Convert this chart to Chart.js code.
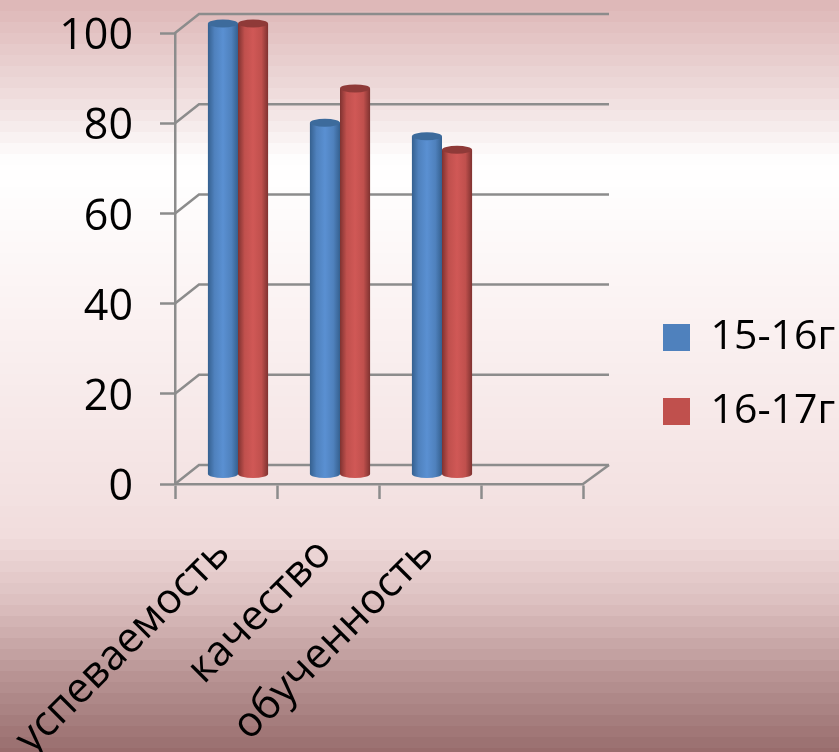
<!DOCTYPE html>
<html>
<head>
<meta charset="utf-8">
<style>
    html, body { margin: 0; padding: 0; background: #fff; overflow: hidden; }
    canvas { display: block; }
</style>
<script src="https://cdn.jsdelivr.net/npm/chart.js@4"></script>
</head>
<body>
<canvas id="gradesChart" width="839" height="752"></canvas>
<script>
const categories = ["успеваемость", "качество", "обученность", ""];
const series1 = [100, 78, 75, null];
const series2 = [100, 85.6, 72, null];
const seriesNames = ["15-16г", "16-17г"];

const fontName = "'Open Sans', sans-serif";
const gridColor = "#8c8c8c";
const categoryPercent = 0.59;
const depthX = 24, depthY = 19;

// edge, main, centre, top cap
const blues = ["#35608f", "#4f81bd", "#5a90d2", "#3d6b9c"];
const reds = ["#7f3230", "#c0504d", "#d05856", "#8f3a38"];

// background stops: y position, colour
const bgStops = [
    [0, [222, 184, 184]], [60, [233, 208, 208]], [110, [243, 230, 230]], [150, [254, 252, 252]],
    [170, [255, 255, 255]], [300, [251, 243, 243]], [420, [246, 232, 232]], [530, [241, 221, 221]],
    [600, [219, 190, 190]], [670, [184, 148, 148]], [752, [150, 106, 106]]
];

function bgColorAt(y) {
    for (let i = 1; i < bgStops.length; i++) {
        if (y <= bgStops[i][0]) {
            const a = bgStops[i - 1], b = bgStops[i];
            const t = (y - a[0]) / (b[0] - a[0]);
            const c = a[1].map((v, k) => Math.round(v + (b[1][k] - v) * t));
            return `rgb(${c[0]},${c[1]},${c[2]})`;
        }
    }
    return "rgb(150,106,106)";
}

function cylinderFill(c, colors) {
    if (c.dataIndex === undefined) return colors[1];
    const xs = c.chart.scales.x;
    const w = (xs.getPixelForValue(1) - xs.getPixelForValue(0)) * categoryPercent / 2;
    const cx = xs.getPixelForValue(c.dataIndex) + (c.datasetIndex - 0.5) * w;
    // scale has no size yet on the first pass
    if (!Number.isFinite(w) || !Number.isFinite(cx)) return colors[1];
    const g = c.chart.ctx.createLinearGradient(cx - w / 2, 0, cx + w / 2, 0);
    g.addColorStop(0, colors[0]);
    g.addColorStop(0.22, colors[1]);
    g.addColorStop(0.5, colors[2]);
    g.addColorStop(0.78, colors[1]);
    g.addColorStop(1, colors[0]);
    return g;
}

const scenePlugin = {
    id: "scene",
    beforeInit(chart) {
        // keep the legend box wide so the plot ends where the floor ends
        const legend = chart.legend;
        const fit = legend.fit, draw = legend.draw;
        legend.fit = function () {
            fit.call(this);
            this.width = 256;
        };
        legend.draw = function () {
            chart.ctx.save();
            chart.ctx.translate(47, -18);
            draw.call(this);
            chart.ctx.restore();
        };
    },
    beforeDraw(chart) {
        const ctx = chart.ctx;
        for (let y = 0; y < chart.height; y += 11) {
            ctx.fillStyle = bgColorAt(y);
            ctx.fillRect(0, y, chart.width, 11);
        }
    },
    beforeDatasetsDraw(chart) {
        const ctx = chart.ctx;
        const xs = chart.scales.x, ys = chart.scales.y;
        ctx.save();
        ctx.strokeStyle = gridColor;
        ctx.lineWidth = 2.5;
        ys.ticks.forEach(t => {
            const y = ys.getPixelForValue(t.value);
            ctx.beginPath();
            ctx.moveTo(xs.left, y);
            ctx.lineTo(xs.left + depthX, y - depthY);
            ctx.lineTo(xs.right + depthX + 2, y - depthY);
            ctx.stroke();
        });
        const y0 = ys.getPixelForValue(0);
        ctx.beginPath();
        ctx.moveTo(xs.right, y0);
        ctx.lineTo(xs.right + depthX + 2, y0 - depthY);
        ctx.stroke();
        ctx.restore();
    },
    beforeDatasetDraw(chart) {
        chart.ctx.save();
        chart.ctx.translate(depthX / 2, -depthY / 2);
    },
    afterDatasetDraw(chart, args) {
        const ctx = chart.ctx;
        const colors = args.index === 0 ? blues : reds;
        args.meta.data.forEach((el, i) => {
            if (chart.data.datasets[args.index].data[i] === null) return;
            const r = el.width / 2;
            ctx.fillStyle = el.options.backgroundColor;
            ctx.beginPath();
            ctx.ellipse(el.x, el.base, r, 4, 0, 0, Math.PI);
            ctx.fill();
            ctx.fillStyle = colors[3];
            ctx.beginPath();
            ctx.ellipse(el.x, el.y, r, 4, 0, 0, Math.PI * 2);
            ctx.fill();
        });
        ctx.restore();
    }
};

new Chart(document.getElementById("gradesChart"), {
    type: "bar",
    data: {
        labels: categories,
        datasets: [
            { label: seriesNames[0], data: series1, backgroundColor: c => cylinderFill(c, blues) },
            { label: seriesNames[1], data: series2, backgroundColor: c => cylinderFill(c, reds) }
        ]
    },
    options: {
        responsive: false,
        animation: false,
        categoryPercentage: categoryPercent,
        barPercentage: 1,
        layout: { padding: { top: 33 } },
        plugins: {
            tooltip: { enabled: false },
            legend: {
                position: "right",
                labels: {
                    boxWidth: 27,
                    boxHeight: 27,
                    padding: 33,
                    color: "#000",
                    font: { family: fontName, size: 41 },
                    generateLabels(chart) {
                        const items = Chart.defaults.plugins.legend.labels.generateLabels(chart);
                        items.forEach((item, i) => {
                            item.fillStyle = (i === 0 ? blues : reds)[1];
                            item.lineWidth = 0;
                        });
                        return items;
                    }
                }
            }
        },
        scales: {
            x: {
                afterFit: s => { s.height = 268; s.paddingLeft = 0; s.paddingRight = 0; },
                border: { color: gridColor, width: 2.5 },
                grid: { drawOnChartArea: false, tickLength: 15, tickColor: gridColor, tickWidth: 2.5 },
                ticks: {
                    autoSkip: false,
                    minRotation: 45,
                    maxRotation: 45,
                    padding: 30,
                    // last label sits a little further right in the reference
                    labelOffset: c => (c.index === 2 ? 6 : -3),
                    color: "#000",
                    font: { family: fontName, size: 42 }
                }
            },
            y: {
                min: 0,
                max: 100,
                afterFit: s => { s.width = 175; s.paddingTop = 0; s.paddingBottom = 0; },
                border: { color: gridColor, width: 2.5 },
                grid: { drawOnChartArea: false, tickLength: 15, tickColor: gridColor, tickWidth: 2.5 },
                ticks: {
                    stepSize: 20,
                    padding: 27,
                    labelOffset: 4,
                    color: "#000",
                    font: { family: fontName, size: 43 }
                }
            }
        }
    },
    plugins: [scenePlugin]
});
</script>
</body>
</html>
